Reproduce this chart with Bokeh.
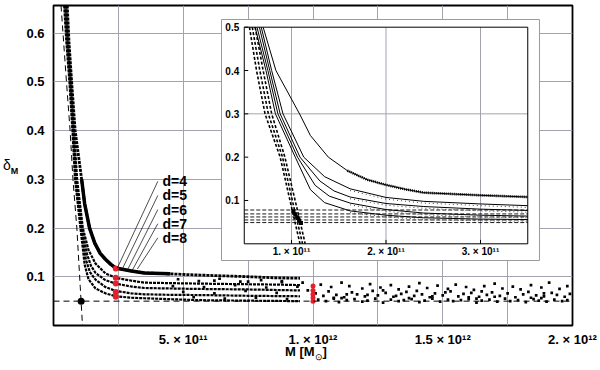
from bokeh.plotting import figure
from bokeh.models import Range1d, FixedTicker, Span, Div
from bokeh.layouts import row, column
from bokeh.embed import file_html
from bokeh.resources import INLINE
from bokeh.core.properties import value

FONT = "Liberation Sans"

# ---------------- data ----------------
d_names = ["d=4", "d=5", "d=6", "d=7", "d=8"]

m_d4 = [5.3e10, 6.0e10, 7.0e10, 8.35e10, 1.085e11, 1.2e11, 1.39e11, 1.59e11, 1.8e11, 2.0e11,
        2.2e11, 2.4e11, 2.7e11, 3.0e11, 3.5e11, 4.5e11, 5.65e11, 6.5e11, 7.6e11, 8.5e11, 9.5e11]
s_d4 = [0.657, 0.58, 0.5, 0.4, 0.3, 0.25, 0.2, 0.169, 0.148, 0.136,
        0.126, 0.118, 0.115, 0.112, 0.108, 0.106, 0.1035, 0.102, 0.100, 0.098, 0.097]

m_d5 = [5.0e10, 5.7e10, 6.8e10, 7.9e10, 9.1e10, 1.13e11, 1.35e11, 1.62e11, 2.0e11, 2.4e11,
        3.0e11, 3.5e11, 4.5e11, 5.65e11, 7.0e11, 8.5e11, 9.5e11]
s_d5 = [0.657, 0.58, 0.5, 0.4, 0.3, 0.2, 0.155, 0.127, 0.107, 0.098,
        0.092, 0.088, 0.087, 0.086, 0.085, 0.084, 0.083]

m_d6 = [4.7e10, 5.5e10, 6.6e10, 7.7e10, 8.8e10, 1.09e11, 1.3e11, 1.45e11, 1.62e11, 2.0e11,
        2.4e11, 3.0e11, 3.5e11, 4.5e11, 5.65e11, 7.5e11, 9.5e11]
s_d6 = [0.657, 0.58, 0.5, 0.4, 0.3, 0.2, 0.145, 0.122, 0.108, 0.093,
        0.086, 0.080, 0.077, 0.076, 0.075, 0.074, 0.072]

m_d7 = [4.4e10, 5.2e10, 6.35e10, 7.5e10, 8.56e10, 1.064e11, 1.25e11, 1.4e11, 1.62e11, 2.0e11,
        2.4e11, 3.0e11, 3.5e11, 4.5e11, 5.65e11, 7.5e11, 9.5e11]
s_d7 = [0.657, 0.58, 0.5, 0.4, 0.3, 0.2, 0.135, 0.110, 0.094, 0.079,
        0.071, 0.066, 0.064, 0.063, 0.0625, 0.061, 0.060]

m_d8 = [4.1e10, 5.0e10, 6.15e10, 7.3e10, 8.3e10, 1.04e11, 1.2e11, 1.35e11, 1.62e11, 2.0e11,
        2.4e11, 3.0e11, 3.5e11, 4.5e11, 5.65e11, 7.5e11, 9.5e11]
s_d8 = [0.657, 0.58, 0.5, 0.4, 0.3, 0.2, 0.125, 0.095, 0.076, 0.066,
        0.060, 0.057, 0.056, 0.054, 0.052, 0.051, 0.050]

curves_m = [m_d4, m_d5, m_d6, m_d7, m_d8]
curves_s = [s_d4, s_d5, s_d6, s_d7, s_d8]

# red markers
red_m1 = 2.4e11
red_s1 = [0.117, 0.098, 0.086, 0.069, 0.059]
red_m2 = 1.0e12
red_s2 = [0.081, 0.072, 0.064, 0.057, 0.050]

# critical point and limiting lines
crit_m = 1.065e11
crit_s = 0.05
main_steep_s = [0.657, 0.5, 0.4, 0.3, 0.2, 0.08, 0.0]
main_steep_m = [2.9e10, 5.0e10, 6.4e10, 7.5e10, 9.0e10, 1.03e11, 1.117e11]

# inset steep band
in_steep_s = [0.5, 0.4, 0.3, 0.2, 0.08, 0.0]
in_steep_left = [5.55e10, 6.3e10, 7.2e10, 8.8e10, 1.005e11, 1.09e11]
in_steep_mid = [5.85e10, 6.65e10, 7.55e10, 9.05e10, 1.03e11, 1.117e11]
in_steep_right = [6.15e10, 7.0e10, 7.9e10, 9.3e10, 1.06e11, 1.145e11]
in_levels = [0.078, 0.069, 0.062, 0.055, 0.049]
cross_m = [1.02e11, 1.04e11, 1.06e11, 1.08e11, 1.10e11]
cross_s = [0.075, 0.068, 0.061, 0.054, 0.048]

# scattered simulation points of the tail (M in units of 1e12)
tailA_m = [1.03, 1.07, 1.11, 1.14, 1.19, 1.22, 1.26, 1.30, 1.33, 1.37,
           1.41, 1.44, 1.48, 1.52, 1.55, 1.59, 1.62, 1.66, 1.70, 1.73,
           1.77, 1.80, 1.84, 1.88, 1.91, 1.95, 1.98, 0.62, 0.75, 0.88]
tailA_s = [0.084, 0.079, 0.088, 0.081, 0.076, 0.085, 0.078, 0.083, 0.074, 0.080,
           0.087, 0.077, 0.082, 0.075, 0.084, 0.079, 0.073, 0.081, 0.086, 0.076,
           0.080, 0.074, 0.083, 0.078, 0.088, 0.075, 0.081, 0.092, 0.090, 0.091]
tailB_m = [1.01, 1.04, 1.06, 1.09, 1.12, 1.15, 1.17, 1.20, 1.23, 1.25,
           1.28, 1.31, 1.34, 1.36, 1.39, 1.42, 1.45, 1.47, 1.50, 1.53,
           1.56, 1.58, 1.61, 1.64, 1.67, 1.69, 1.72, 1.75, 1.78, 1.81,
           1.83, 1.86, 1.89, 1.92, 1.94, 1.97, 1.99, 1.08, 1.27, 1.46,
           1.65, 1.84, 1.13, 1.32, 1.51, 1.70, 1.89, 1.21, 1.40, 1.60]
tailB_s = [0.066, 0.061, 0.070, 0.063, 0.058, 0.068, 0.064, 0.060, 0.071, 0.062,
           0.067, 0.059, 0.065, 0.069, 0.061, 0.064, 0.058, 0.066, 0.062, 0.070,
           0.060, 0.065, 0.067, 0.059, 0.063, 0.068, 0.061, 0.066, 0.058, 0.064,
           0.069, 0.062, 0.060, 0.067, 0.063, 0.059, 0.065, 0.057, 0.072, 0.060,
           0.070, 0.057, 0.064, 0.061, 0.068, 0.059, 0.066, 0.063, 0.071, 0.058]
tailC_m = [1.02, 1.05, 1.08, 1.10, 1.13, 1.16, 1.19, 1.21, 1.24, 1.27,
           1.30, 1.33, 1.35, 1.38, 1.41, 1.43, 1.46, 1.49, 1.52, 1.54,
           1.57, 1.60, 1.63, 1.65, 1.68, 1.71, 1.74, 1.76, 1.79, 1.82,
           1.85, 1.87, 1.90, 1.93, 1.96, 1.98, 1.11, 1.37, 1.63, 1.88]
tailC_s = [0.053, 0.050, 0.055, 0.048, 0.052, 0.054, 0.049, 0.051, 0.055, 0.047,
           0.053, 0.050, 0.052, 0.054, 0.048, 0.051, 0.055, 0.049, 0.053, 0.050,
           0.052, 0.054, 0.047, 0.051, 0.053, 0.049, 0.055, 0.050, 0.052, 0.048,
           0.054, 0.051, 0.049, 0.053, 0.050, 0.052, 0.056, 0.056, 0.055, 0.056]
tailD_m = [0.46, 0.50, 0.54, 0.58, 0.62, 0.66, 0.70, 0.74, 0.78, 0.82, 0.86,
           0.90, 0.94, 0.98, 0.48, 0.56, 0.64, 0.72, 0.80, 0.88, 0.96]
tailD_s = [0.081, 0.069, 0.058, 0.079, 0.066, 0.055, 0.083, 0.071, 0.057, 0.078, 0.067,
           0.054, 0.080, 0.072, 0.095, 0.091, 0.096, 0.090, 0.093, 0.089, 0.088]

# axes ticks
x_ticks = [5e11, 1e12, 1.5e12, 2e12]
x_tick_labels = ["5. × 10¹¹", "1. × 10¹²", "1.5 × 10¹²", "2. × 10¹²"]
x_grid = [2.5e11, 5e11, 7.5e11, 1e12, 1.25e12, 1.5e12, 1.75e12]
y_ticks = [0.1, 0.2, 0.3, 0.4, 0.5, 0.6]
y_tick_labels = ["0.1", "0.2", "0.3", "0.4", "0.5", "0.6"]
in_x_ticks = [1e11, 2e11, 3e11]
in_x_labels = ["1. × 10¹¹", "2. × 10¹¹", "3. × 10¹¹"]
in_y_ticks = [0.1, 0.2, 0.3, 0.4, 0.5]
in_y_labels = ["0.1", "0.2", "0.3", "0.4", "0.5"]

# ---------------- figure ----------------
GRID = "#a3a3b0"
LEFT_W = 20
p = figure(width=600 - LEFT_W, height=350, x_range=Range1d(0, 2e12), y_range=Range1d(0, 0.657),
           output_backend="svg", toolbar_location=None,
           min_border_left=53 - LEFT_W, min_border_right=28, min_border_top=5, min_border_bottom=25,
           margin=(0, 0, 0, 0))
p.outline_line_color = "black"
p.outline_line_width = 1.8
p.background_fill_color = "white"

p.xaxis.ticker = FixedTicker(ticks=x_ticks)
p.xaxis.major_label_overrides = {t: l for t, l in zip(x_ticks, x_tick_labels)}
p.yaxis.ticker = FixedTicker(ticks=y_ticks)
p.yaxis.major_label_overrides = {t: l for t, l in zip(y_ticks, y_tick_labels)}
for ax in (p.xaxis[0], p.yaxis[0]):
    ax.axis_line_color = None
    ax.major_tick_line_color = None
    ax.minor_tick_line_color = None
    ax.major_tick_out = 0
    ax.major_tick_in = 0
    ax.minor_tick_out = 0
    ax.major_label_text_font = FONT
    ax.major_label_text_font_style = "bold"
    ax.major_label_text_color = "black"
p.xaxis.major_label_text_font_size = "13px"
p.yaxis.major_label_text_font_size = "13px"
p.xaxis.major_label_standoff = 6
p.yaxis.major_label_standoff = 9

p.xgrid.ticker = FixedTicker(ticks=x_grid)
p.ygrid.ticker = FixedTicker(ticks=y_ticks)
p.xgrid.grid_line_color = GRID
p.ygrid.grid_line_color = GRID
p.xgrid.grid_line_width = 1
p.ygrid.grid_line_width = 1

# limiting lines
p.add_layout(Span(location=crit_s, dimension="width", line_color="black",
                  line_dash="6 4", line_width=1))
p.line(main_steep_m, main_steep_s, line_color="black", line_dash="6 4", line_width=1)

# simulation bands in the main panel
for i, (mm, ss) in enumerate(zip(curves_m, curves_s)):
    w = 2.8 if i == 0 else 2.2
    p.line(mm, ss, line_color="black", line_width=w, line_dash="3 1")
thick_m = [m for m in m_d4 if 1.0e11 <= m <= 4.5e11]
thick_s = [s for m, s in zip(m_d4, s_d4) if 1.0e11 <= m <= 4.5e11]
p.line(thick_m, thick_s, line_color="black", line_width=3.5)

for mm, ss in ((tailA_m, tailA_s), (tailB_m, tailB_s), (tailC_m, tailC_s), (tailD_m, tailD_s)):
    p.scatter([m * 1e12 for m in mm], ss, marker="square", size=2.7,
              fill_color="black", line_color=None)

p.scatter([red_m1] * 5, red_s1, size=6, fill_color="#e3202b", line_color=None)
p.scatter([red_m2] * 5, red_s2, size=5, fill_color="#e3202b", line_color=None)
p.scatter([crit_m], [crit_s], size=7, fill_color="black", line_color=None)

# labels d=4..8 with leader lines
lab_m = 4.2e11
lab_s = [0.296, 0.267, 0.238, 0.209, 0.180]
lead_start_m = 4.02e11
lead_end_m = [2.46e11, 2.65e11, 2.85e11, 3.04e11, 3.23e11]
lead_end_s = [0.118, 0.116, 0.114, 0.114, 0.116]
p.segment(x0=[lead_start_m] * 5, y0=lab_s, x1=lead_end_m, y1=lead_end_s,
          line_color="black", line_width=0.7)
p.text(x=[lab_m] * 5, y=lab_s, text=d_names, text_font=value(FONT), text_font_style="bold",
       text_font_size="14px", text_baseline="middle", text_align="left", text_color="black")

# ---------------- inset ----------------
p.extra_x_ranges = {"ix": Range1d(-1.5185e11, 3.9735e11)}
p.extra_y_ranges = {"iy": Range1d(-0.1886, 0.5501)}
IK = dict(x_range_name="ix", y_range_name="iy")

p.quad(left=[2.593e10], right=[3.624e11], bottom=[-0.0386], top=[0.5178],
       fill_color="white", line_color="#9a9a9a", line_width=1, **IK)
p.segment(x0=in_x_ticks, y0=[0] * 3, x1=in_x_ticks, y1=[0.5] * 3,
          line_color=GRID, line_width=1, **IK)
p.segment(x0=[5e10], y0=[0.3], x1=[3.5e11], y1=[0.3], line_color=GRID, line_width=1, **IK)

for lv in in_levels:
    p.line([5e10, 3.5e11], [lv, lv], line_color="black", line_dash="4 2", line_width=0.9, **IK)
for mm in (in_steep_left, in_steep_mid, in_steep_right):
    p.line(mm, in_steep_s, line_color="black", line_dash="3 2", line_width=1.6, **IK)

for i, (mm, ss) in enumerate(zip(curves_m, curves_s)):
    im = [m for m, s in zip(mm, ss) if 5e10 <= m <= 3.5e11 and s <= 0.5]
    isv = [s for m, s in zip(mm, ss) if 5e10 <= m <= 3.5e11 and s <= 0.5]
    p.line(im, isv, line_color="black", line_width=1, **IK)
    dm = [m for m in im if m >= 1.55e11]
    ds = [s for m, s in zip(im, isv) if m >= 1.55e11]
    if i == 0:
        p.line(dm, ds, line_color="black", line_width=2.6, line_dash="1 1", **IK)
    else:
        p.line(dm, [s - 0.004 for s in ds], line_color="#444444", line_width=1.0,
               line_dash="1 3", **IK)

p.scatter(cross_m, cross_s, marker="square", size=4, fill_color="black", line_color=None, **IK)

p.quad(left=[5e10], right=[3.5e11], bottom=[0], top=[0.5], fill_color=None,
       line_color="black", line_width=1, **IK)
tick_dx = 4.2e9
tick_dy = 0.009
p.segment(x0=[5e10] * 5, y0=in_y_ticks, x1=[5e10 + tick_dx] * 5, y1=in_y_ticks,
          line_color="black", line_width=1, **IK)
p.segment(x0=in_x_ticks, y0=[0] * 3, x1=in_x_ticks, y1=[tick_dy] * 3,
          line_color="black", line_width=1, **IK)
p.text(x=[5e10] * 5, y=in_y_ticks, text=in_y_labels, x_offset=-5, text_align="right",
       text_baseline="middle", text_font=value(FONT), text_font_style="bold",
       text_font_size="10px", text_color="black", **IK)
p.text(x=in_x_ticks, y=[0] * 3, text=in_x_labels, y_offset=8, text_align="center",
       text_baseline="middle", text_font=value(FONT), text_font_style="bold",
       text_font_size="10px", text_color="black", **IK)

# ---------------- axis titles as HTML text ----------------
x_title = ('<div style="position:relative;top:-6px;left:%dpx;white-space:nowrap;'
           'font-family:\'Liberation Sans\';font-weight:bold;font-size:13px;color:black;'
           'line-height:15px;">M [M<sub style="font-size:9px;font-weight:normal;">&#8857;</sub>]</div>'
           % (285 - LEFT_W))
y_title = ('<div style="position:relative;top:157px;left:3px;white-space:nowrap;'
           'font-family:\'Liberation Sans\';font-size:14px;color:black;line-height:16px;">'
           '&#948;<sub style="font-size:9px;font-weight:bold;">M</sub></div>')
div_x = Div(text=x_title, width=600 - LEFT_W, height=20, margin=(0, 0, 0, 0))
div_y = Div(text=y_title, width=LEFT_W, height=370, margin=(0, 0, 0, 0))

layout = row(div_y, column(p, div_x, spacing=0), spacing=0)

open("out.html", "w").write(file_html(layout, INLINE))
